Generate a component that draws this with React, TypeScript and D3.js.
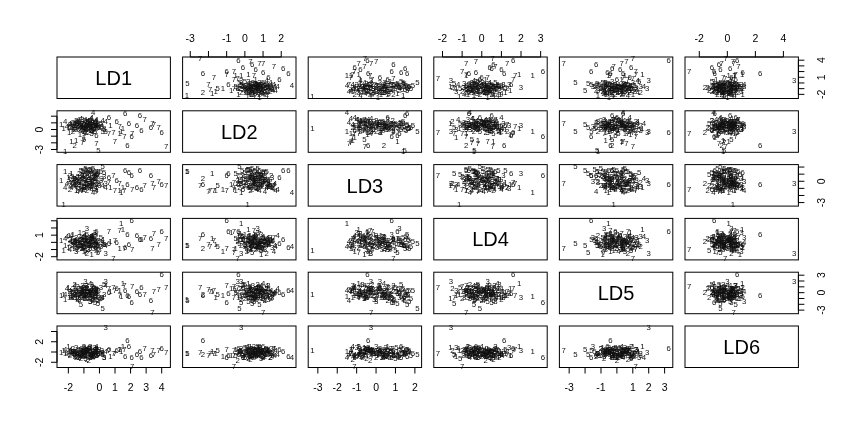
import React from "react";
import * as d3 from "d3";

const varNames = ["LD1", "LD2", "LD3", "LD4", "LD5", "LD6"];

const cls = [
  7, 3, 6, 1, 5, 1, 6, 7, 7, 6,
  5, 7, 1, 4, 6, 6, 7, 6, 7, 6,
  7, 6, 7, 2, 7, 1, 5, 7, 1, 6,
  7, 1, 1, 1, 3, 2, 2, 4, 4, 2,
  3, 2, 5, 5, 2, 3, 4, 2, 3, 5,
  2, 4, 3, 2, 5, 3, 2, 4, 5, 2,
  3, 4, 2, 5, 3, 2, 4, 5, 2, 3,
  4, 2, 5, 3, 2, 4, 5, 2, 3, 2,
  4, 5, 2, 3, 2, 4, 5, 2, 3, 1,
  1, 4, 2, 3, 5, 2, 4, 3, 2, 5,
  2, 3, 4, 2, 5, 1, 3, 6, 7, 6,
  7, 6, 1, 7, 1,
  2, 3, 4, 5, 2, 3, 2, 4, 5, 2,
  3, 2, 4, 5, 2, 3, 2, 4, 5, 2,
  3, 2, 4, 5, 2, 3, 2, 4, 5, 2,
  3, 2, 4, 5, 2, 3, 2, 4, 5, 2,
  3, 2, 4, 5, 2, 1, 1, 3, 2, 4,
];

const ld1 = [
  4.29, 0.4, 4.0, -2.3, -0.07, -2.2, 2.07, 3.4, 2.1, 1.8,
  0.2, 0.9, 1.4, -0.4, 1.66, 2.6, 3.5, 3.3, 2.9, 2.7,
  1.6, 1.9, -1.1, -1.6, -0.2, -1.8, -1.0, 1.0, -1.5, -0.2,
  0.6, 0.7, 1.3, -0.5, -0.8, -1.9, -1.7, -2.1, -2.2, -1.4,
  -1.2, -1.3, -0.9, -0.6, -1.1, -0.8, -1.8, -1.5, -1.0, -0.4,
  -1.2, -1.6, -0.7, -0.3, -0.2, -0.5, -1.4, -0.9, -1.1, -0.8,
  -0.3, -0.2, -1.7, -0.1, -1.3, -1.0, -0.6, -0.3, -1.9, 0.1,
  0.2, -0.7, -0.8, -1.5, -0.4, -1.2, 0.3, -1.0, -0.6, -1.6,
  -0.5, -0.9, -0.2, -1.1, -0.7, 0.4, -0.5, -1.3, 0.0, -1.7,
  -2.0, -1.4, -0.1, -0.9, -1.2, -0.6, -1.9, -0.3, -1.1, 0.1,
  -0.8, -1.6, -0.2, -0.4, -0.6, -2.46, 0.3, 1.1, 1.3, 2.4,
  3.8, 0.6, 1.5, -0.9, -1.0,
  -1.25, -0.95, -1.55, -0.55, -0.85, -0.45, -1.35, -0.75, -0.35, -1.05,
  -0.65, -1.45, -1.15, -0.25, -0.55, -1.75, -0.15, -0.95, -0.75, -1.25,
  -0.35, -0.95, -1.65, -0.45, -1.15, -0.85, -0.25, -1.35, -0.65, -1.55,
  -0.05, -0.75, -0.45, -1.05, -0.55, -1.45, -0.35, -1.85, -0.15, -0.95,
  -0.65, -1.15, -0.25, -0.85, -0.45, -1.95, -1.25, 0.15, -1.65, -0.55,
];

const ld2 = [
  -2.45, -0.2, -0.35, 0.15, -3.15, -3.19, -1.0, 1.0, -0.6, -2.3,
  -0.3, -0.4, -0.2, 2.58, 2.4, 2.1, 0.8, 0.4, 1.6, -0.1,
  -1.0, 1.0, -1.9, -2.3, -2.0, -1.8, -1.5, -1.7, -1.6, -0.9,
  -0.6, 0.6, -0.5, 0.9, 0.7, 0.8, 1.1, 0.5, 1.2, 0.3,
  0.6, 1.0, 0.4, 0.2, 0.9, 1.3, 0.2, 1.4, 0.0, 0.7,
  0.2, 0.9, 1.1, 0.5, 1.2, -0.1, 0.6, 1.5, 0.1, 0.3,
  0.9, 1.6, -0.2, 0.4, 1.3, 0.7, 1.0, -0.2, 0.4, 0.8,
  1.4, -0.4, 0.6, 0.1, 1.1, 1.7, 0.0, -0.3, 0.5, 0.7,
  1.8, 0.9, 0.2, 1.5, 0.0, 1.2, -0.5, 0.5, 0.3, 0.0,
  0.3, 1.1, 0.6, -0.4, 0.8, 1.4, 1.0, 0.7, -0.1, 1.0,
  1.2, 0.4, 0.8, -0.2, 0.3, 0.8, 0.2, 1.3, 0.5, 0.6,
  0.3, 1.9, 0.2, -0.6, -1.2,
  0.45, 0.85, 1.25, 0.55, 0.15, 1.05, 0.75, 1.35, 0.25, 0.55,
  0.35, 1.15, 0.65, 0.85, -0.05, 0.55, 0.95, 0.25, 1.15, 0.05,
  0.65, 1.45, 0.45, -0.15, 0.95, 0.45, 0.65, 1.55, 0.75, 0.25,
  0.55, 0.85, 1.25, 0.35, 0.45, 0.95, 0.05, 0.75, 0.65, -0.25,
  1.25, 0.35, 1.45, 0.15, 0.75, -0.35, -0.75, 0.45, 0.95, 1.65,
];

const ld3 = [
  -0.57, -0.26, -0.45, -3.28, 1.47, 1.4, 0.8, -0.25, -1.12, -0.4,
  2.13, 0.9, -1.5, -1.5, 1.6, 1.5, -0.9, 0.9, -0.6, -1.1,
  -1.2, 1.3, -1.3, 0.4, -1.4, 1.1, -0.6, -1.3, -1.2, 1.1,
  -0.2, -0.8, -1.3, -0.6, 1.2, 0.9, 0.3, -0.3, -0.8, 0.6,
  0.1, 1.2, 1.8, 1.7, 0.8, -0.4, -0.9, 0.0, 0.5, 1.9,
  -0.5, -0.6, 0.3, -0.2, 1.4, -0.7, 0.7, -1.0, 1.5, -1.2,
  0.8, -0.4, 0.2, 1.1, -0.1, -0.9, 0.4, 0.9, -1.1, 0.2,
  -0.6, -0.3, 1.6, -0.4, 0.6, -1.3, 1.3, -0.8, 0.0, -0.2,
  -1.1, 1.0, 0.4, 0.6, -0.6, -0.8, 1.2, 0.3, -0.5, -0.1,
  0.6, -1.4, 0.5, 0.2, 1.6, -0.7, -0.2, -1.0, 0.9, 1.4,
  -0.3, 0.4, -1.2, 0.0, 1.7, 0.1, 0.7, 0.2, -0.3, -0.8,
  0.0, 0.6, -0.9, -0.9, -1.1,
  0.55, -0.15, -0.75, 1.45, 0.25, 0.05, -0.45, -0.55, 1.15, 0.45,
  -0.85, 0.15, -1.15, 0.75, 0.35, 0.65, -0.35, -0.65, 1.25, -0.15,
  0.45, 0.85, -0.35, 1.55, -0.65, 0.15, -0.05, -0.95, 1.05, 0.35,
  -0.25, 0.55, -0.45, 1.35, -0.55, 0.05, 0.65, -0.55, 0.95, -0.25,
  0.35, 0.75, -0.85, 1.65, 0.15, 0.25, -0.45, 0.45, 0.45, -0.25,
];

const ld4 = [
  0.55, -1.57, 1.6, -1.15, -0.37, -0.4, 3.12, -0.79, -1.0, 1.14,
  -0.1, -2.23, 2.6, -0.6, -0.66, 0.5, 1.3, 0.6, 0.7, 0.4,
  -0.8, -0.3, -0.5, -0.8, -0.2, 0.6, -0.5, 0.3, -0.2, 1.5,
  1.6, 0.2, -0.8, -1.6, 2.0, 0.5, 0.2, 0.8, 0.6, -0.3,
  0.4, -0.2, -0.6, 0.3, 0.1, -0.2, 1.0, 0.7, -0.6, 0.1,
  0.5, 0.3, -0.9, -0.4, -0.3, 0.9, -1.0, 0.2, -0.8, 0.6,
  1.1, -1.2, -0.4, -1.4, 0.0, -0.7, 0.8, 0.5, -0.1, -0.5,
  0.4, 0.2, 1.2, -1.3, 0.0, -0.5, -0.2, 1.3, 0.7, -0.6,
  1.0, -1.1, 0.8, -0.7, -0.2, -0.4, 0.6, 0.9, -0.9, 1.2,
  -0.7, 0.1, -0.6, 0.3, -0.4, 0.5, -0.9, 1.4, 0.4, 0.7,
  -1.5, 0.2, 0.0, 1.0, -0.8, 0.3, -0.3, 0.0, 1.7, 1.0,
  -0.3, -0.1, 1.9, -1.4, -1.3,
  0.35, 0.15, 0.45, -0.45, -0.15, 0.55, -0.55, -0.25, 0.25, 0.75,
  -0.35, 0.05, 0.65, -0.65, 0.45, -0.25, 0.15, 1.05, 0.35, -0.45,
  -0.75, 0.25, -0.15, 0.85, -0.35, 0.65, -0.55, 0.35, -0.15, 0.15,
  0.35, -0.95, 0.75, 0.05, 0.55, -0.65, 0.25, 0.15, -0.35, 0.85,
  -0.05, -0.75, 0.15, 0.45, -0.25, 0.95, 1.45, 0.05, 0.35, -0.45,
];

const ld5 = [
  1.0, 2.0, 3.25, -0.2, -1.24, -1.2, -1.62, -3.35, 1.18, -0.4,
  -2.6, 1.0, -0.53, 0.4, 0.4, -0.3, 0.3, -1.3, -0.2, 0.9,
  1.2, -0.6, 0.3, -0.3, 0.6, 0.3, -0.3, 0.4, -0.7, -0.1,
  0.7, 0.3, 0.5, -0.9, -0.8, 0.3, -0.5, 0.7, -0.3, 1.1,
  0.8, -0.1, -1.0, -1.4, 0.4, 1.2, -0.7, 0.1, -0.5, 0.5,
  -0.8, 1.3, 0.3, -0.4, 0.7, 1.5, -0.9, -0.3, 0.0, 0.7,
  -0.7, 0.1, 0.8, -1.8, -1.2, 0.9, 1.7, -1.6, -0.1, 1.0,
  -0.8, 0.0, -0.5, 0.5, -1.3, 0.3, 1.4, -0.4, -1.5, 1.5,
  0.8, 0.9, 0.5, -0.8, -1.0, 1.3, 0.1, -0.3, -0.7, 0.1,
  1.0, -1.3, -0.5, 1.9, -2.0, 0.0, 0.4, -0.1, 1.2, -0.9,
  0.7, -0.8, 0.3, -1.2, 0.4, -0.5, -0.3, 0.8, -0.4, 0.2,
  0.6, 0.0, 1.6, -0.8, -0.4,
  -0.2, 0.6, -0.45, -0.7, 0.45, -0.3, 0.7, 0.2, 0.85, -0.6,
  -0.2, 0.3, 1.0, -0.45, 0.05, -0.85, 0.6, 0.2, 0.3, -0.45,
  0.85, -1.0, 0.45, -0.3, 0.05, 1.25, -0.6, -0.2, 0.2, -0.3,
  0.45, 0.3, -0.7, 0.6, -0.05, 0.2, 1.0, -0.6, -1.1, 0.7,
  -0.45, -0.05, 0.45, -0.2, 1.1, -0.7, 0.85, -0.7, 0.05, -0.05,
];

const ld6 = [
  -0.12, 4.77, 0.7, 0.4, -0.25, -0.3, -0.94, 0.45, -2.72, 2.35,
  -0.5, -0.15, 0.1, -1.0, -0.9, 0.2, -0.4, -0.6, 0.8, -1.1,
  0.6, 1.1, -0.2, -0.4, -0.6, 0.1, 0.3, -0.3, -0.3, -0.7,
  0.3, -0.8, 0.5, 0.9, 0.3, -0.4, 0.2, -0.2, 0.5, -0.9,
  0.3, -1.0, -0.7, 0.2, -0.5, 0.6, -0.3, -1.1, 1.0, -0.2,
  -1.3, 0.0, -0.3, 0.5, 0.8, -0.6, 0.3, -0.8, 0.0, -1.4,
  0.2, 0.7, 0.8, -0.5, -0.2, 1.1, -1.0, 0.3, -0.7, -0.3,
  0.0, -1.6, 0.5, 1.0, -0.8, 0.3, -1.1, 0.2, 1.2, -0.3,
  -0.5, -1.3, 0.6, -0.2, 0.8, 0.2, -0.6, -1.0, 0.5, -0.3,
  1.1, -0.5, -0.2, 0.0, 0.6, -1.1, 0.3, 1.0, -0.6, 0.0,
  0.3, -0.8, 1.2, -0.3, 0.3, 0.0, -1.0, 0.3, 0.5, -0.5,
  0.4, 0.6, 1.06, -0.7, -0.9,
  -0.55, 0.25, 0.1, -0.4, 0.4, -0.7, 0.55, -0.25, -0.9, 0.1,
  0.7, -0.4, -0.55, 0.25, -1.05, 0.1, 0.4, -0.7, 0.55, -0.1,
  -0.55, 0.7, 0.25, -0.25, -0.9, 0.55, 0.1, -0.4, 0.9, -0.7,
  0.1, -0.55, 0.4, -0.25, 0.25, -0.1, -0.4, 0.55, -0.7, 0.4,
  -0.4, 0.7, -0.1, 0.1, -0.25, 0.25, -0.7, 0.4, 0.1, -0.55,
];

const ticksLD1 = [-2, -1, 0, 1, 2, 3, 4];
const ticksLD2 = [-3, -2, -1, 0, 1, 2];
const ticksLD3 = [-3, -2, -1, 0, 1, 2];
const ticksLD4 = [-2, -1, 0, 1, 2, 3];
const ticksLD5 = [-3, -2, -1, 0, 1, 2, 3];
const ticksLD6 = [-2, 0, 2, 4];

const FONT = "'Liberation Sans', Arial, Helvetica, sans-serif";

// R-like label thinning: skip a label if it would come within one 'm' of the previous one
function keepLabels(ticks: number[], pos: (v: number) => number) {
  const F = 10.8;
  const width = (s: string) =>
    F * (0.556 * s.replace("-", "").length + (s.includes("-") ? 0.333 : 0));
  const keep: boolean[] = [];
  let lastEnd = -Infinity;
  ticks.forEach((t) => {
    const s = String(t);
    const w = width(s);
    const p = pos(t);
    if (p - w / 2 >= lastEnd + 0.833 * F) {
      keep.push(true);
      lastEnd = p + w / 2;
    } else keep.push(false);
  });
  return keep;
}

export default function App() {
  const W = 855;
  const H = 425;
  const vars = [ld1, ld2, ld3, ld4, ld5, ld6];
  const ticks = [ticksLD1, ticksLD2, ticksLD3, ticksLD4, ticksLD5, ticksLD6];
  const n = 6;
  const left0 = 57;
  const top0 = 57;
  const stepX = 125.6;
  const stepY = 53.8;
  const pw = 113.4;
  const ph = 41.5;

  const domains = vars.map((v) => {
    const [mn, mx] = d3.extent(v) as [number, number];
    const r = mx - mn;
    return [mn - 0.04 * r, mx + 0.04 * r] as [number, number];
  });

  const xScale = (j: number) =>
    d3.scaleLinear().domain(domains[j]).range([left0 + j * stepX, left0 + j * stepX + pw]);
  const yScale = (i: number) =>
    d3.scaleLinear().domain(domains[i]).range([top0 + i * stepY + ph, top0 + i * stepY]);

  const panels: React.ReactNode[] = [];
  for (let i = 0; i < n; i++) {
    for (let j = 0; j < n; j++) {
      const x0 = left0 + j * stepX;
      const y0 = top0 + i * stepY;
      const key = `p${i}-${j}`;
      const content: React.ReactNode[] = [];
      if (i === j) {
        content.push(
          <text
            key="lab"
            x={x0 + pw / 2}
            y={y0 + ph / 2}
            dy="0.36em"
            textAnchor="middle"
            fontSize={20}
            fontFamily={FONT}
            fill="#000"
          >
            {varNames[i]}
          </text>
        );
      } else {
        const xs = xScale(j);
        const ys = yScale(i);
        cls.forEach((c, k) => {
          content.push(
            <text
              key={k}
              x={xs(vars[j][k])}
              y={ys(vars[i][k])}
              dy="0.36em"
              textAnchor="middle"
              fontSize={7.8}
              fontFamily={FONT}
              fill="#111"
            >
              {c}
            </text>
          );
        });
      }
      panels.push(
        <g key={key}>
          {content}
          <rect
            x={x0}
            y={y0}
            width={pw}
            height={ph}
            fill="none"
            stroke="#000"
            strokeWidth={1}
          />
        </g>
      );
    }
  }

  const axes: React.ReactNode[] = [];
  const TL = 6;
  // horizontal axes: top for odd columns, bottom for even columns
  for (let j = 0; j < n; j++) {
    const xs = xScale(j);
    const t = ticks[j];
    const keep = keepLabels(t, (v) => xs(v));
    const isTop = j % 2 === 1;
    const yEdge = isTop ? top0 : top0 + (n - 1) * stepY + ph;
    const dir = isTop ? -1 : 1;
    axes.push(
      <g key={`ax${j}`}>
        <line x1={xs(t[0])} x2={xs(t[t.length - 1])} y1={yEdge} y2={yEdge} stroke="#000" />
        {t.map((v, k) => (
          <g key={k}>
            <line x1={xs(v)} x2={xs(v)} y1={yEdge} y2={yEdge + dir * TL} stroke="#000" />
            {keep[k] && (
              <text
                x={xs(v)}
                y={isTop ? yEdge - 19 : yEdge + 20}
                dy="0.36em"
                textAnchor="middle"
                fontSize={10.5}
                fontFamily={FONT}
                fill="#000"
              >
                {v}
              </text>
            )}
          </g>
        ))}
      </g>
    );
  }
  // vertical axes: left for odd rows, right for even rows
  for (let i = 0; i < n; i++) {
    const ys = yScale(i);
    const t = ticks[i];
    const keep = keepLabels(t, (v) => -ys(v));
    const isLeft = i % 2 === 1;
    const xEdge = isLeft ? left0 : left0 + (n - 1) * stepX + pw;
    const dir = isLeft ? -1 : 1;
    axes.push(
      <g key={`ay${i}`}>
        <line x1={xEdge} x2={xEdge} y1={ys(t[0])} y2={ys(t[t.length - 1])} stroke="#000" />
        {t.map((v, k) => {
          const lx = isLeft ? xEdge - 17.7 : xEdge + 23.3;
          return (
            <g key={k}>
              <line x1={xEdge} x2={xEdge + dir * TL} y1={ys(v)} y2={ys(v)} stroke="#000" />
              {keep[k] && (
                <text
                  transform={`translate(${lx},${ys(v)}) rotate(-90)`}
                  dy="0.36em"
                  textAnchor="middle"
                  fontSize={10.5}
                  fontFamily={FONT}
                  fill="#000"
                >
                  {v}
                </text>
              )}
            </g>
          );
        })}
      </g>
    );
  }

  return (
    <svg
      width={W}
      height={H}
      viewBox={`0 0 ${W} ${H}`}
      style={{
        position: "absolute",
        left: 0,
        top: 0,
        background: "#fff",
        filter: "grayscale(1)",
      }}
    >
      <rect x={0} y={0} width={W} height={H} fill="#fff" />
      {panels}
      {axes}
    </svg>
  );
}
